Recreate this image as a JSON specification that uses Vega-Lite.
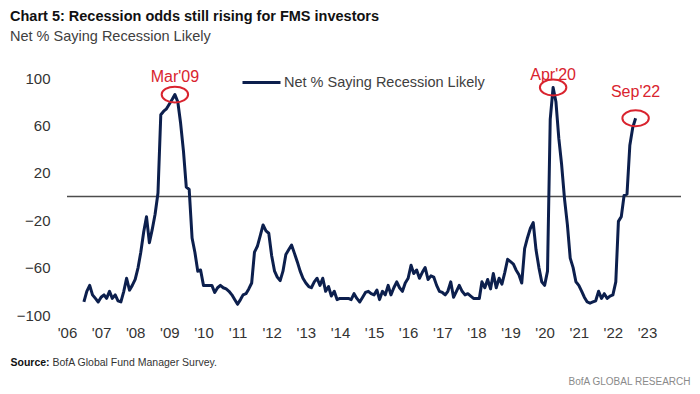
{
  "$schema": "https://vega.github.io/schema/vega-lite/v6.json",
  "width": 614,
  "height": 237,
  "autosize": {"type": "none"},
  "padding": {"left": 67, "top": 78, "right": 19, "bottom": 79},
  "background": "white",
  "config": {"view": {"stroke": null}, "font": "Liberation Sans"},
  "title": {
    "text": "Chart 5: Recession odds still rising for FMS investors",
    "subtitle": "Net % Saying Recession Likely",
    "anchor": "start",
    "frame": "group",
    "dx": -57,
    "offset": 18,
    "font": "Liberation Sans",
    "fontSize": 14.5,
    "fontWeight": "bold",
    "color": "#111111",
    "subtitleFont": "Liberation Sans",
    "subtitleFontSize": 14.5,
    "subtitleColor": "#404040",
    "subtitlePadding": 5
  },
  "datasets": {
    "fms": [
      {"date": "2006-07-01", "value": -89}, {"date": "2006-08-01", "value": -80}, {"date": "2006-09-01", "value": -75}, {"date": "2006-10-01", "value": -83}, {"date": "2006-11-01", "value": -86}, {"date": "2006-12-01", "value": -89},
      {"date": "2007-01-01", "value": -85}, {"date": "2007-02-01", "value": -83}, {"date": "2007-03-01", "value": -86}, {"date": "2007-04-01", "value": -80}, {"date": "2007-05-01", "value": -86}, {"date": "2007-06-01", "value": -83}, {"date": "2007-07-01", "value": -88}, {"date": "2007-08-01", "value": -89}, {"date": "2007-09-01", "value": -80}, {"date": "2007-10-01", "value": -69}, {"date": "2007-11-01", "value": -79}, {"date": "2007-12-01", "value": -75},
      {"date": "2008-01-01", "value": -70}, {"date": "2008-02-01", "value": -60}, {"date": "2008-03-01", "value": -47}, {"date": "2008-04-01", "value": -30}, {"date": "2008-05-01", "value": -17}, {"date": "2008-06-01", "value": -39}, {"date": "2008-07-01", "value": -28}, {"date": "2008-08-01", "value": -15}, {"date": "2008-09-01", "value": 3}, {"date": "2008-10-01", "value": 69}, {"date": "2008-11-01", "value": 72}, {"date": "2008-12-01", "value": 74},
      {"date": "2009-01-01", "value": 78}, {"date": "2009-02-01", "value": 82}, {"date": "2009-03-01", "value": 86}, {"date": "2009-04-01", "value": 80}, {"date": "2009-05-01", "value": 62}, {"date": "2009-06-01", "value": 38}, {"date": "2009-07-01", "value": 8}, {"date": "2009-08-01", "value": 6}, {"date": "2009-09-01", "value": -35}, {"date": "2009-10-01", "value": -47}, {"date": "2009-11-01", "value": -63}, {"date": "2009-12-01", "value": -62},
      {"date": "2010-01-01", "value": -75}, {"date": "2010-02-01", "value": -75}, {"date": "2010-03-01", "value": -75}, {"date": "2010-04-01", "value": -75}, {"date": "2010-05-01", "value": -81}, {"date": "2010-06-01", "value": -77}, {"date": "2010-07-01", "value": -75}, {"date": "2010-08-01", "value": -77}, {"date": "2010-09-01", "value": -78}, {"date": "2010-10-01", "value": -80}, {"date": "2010-11-01", "value": -83}, {"date": "2010-12-01", "value": -87},
      {"date": "2011-01-01", "value": -91}, {"date": "2011-02-01", "value": -87}, {"date": "2011-03-01", "value": -83}, {"date": "2011-04-01", "value": -82}, {"date": "2011-05-01", "value": -78}, {"date": "2011-06-01", "value": -73}, {"date": "2011-07-01", "value": -47}, {"date": "2011-08-01", "value": -42}, {"date": "2011-09-01", "value": -33}, {"date": "2011-10-01", "value": -24}, {"date": "2011-11-01", "value": -29}, {"date": "2011-12-01", "value": -31},
      {"date": "2012-01-01", "value": -50}, {"date": "2012-02-01", "value": -63}, {"date": "2012-03-01", "value": -68}, {"date": "2012-04-01", "value": -71}, {"date": "2012-05-01", "value": -63}, {"date": "2012-06-01", "value": -49}, {"date": "2012-07-01", "value": -45}, {"date": "2012-08-01", "value": -41}, {"date": "2012-09-01", "value": -48}, {"date": "2012-10-01", "value": -55}, {"date": "2012-11-01", "value": -63}, {"date": "2012-12-01", "value": -69},
      {"date": "2013-01-01", "value": -73}, {"date": "2013-02-01", "value": -76}, {"date": "2013-03-01", "value": -77}, {"date": "2013-04-01", "value": -72}, {"date": "2013-05-01", "value": -69}, {"date": "2013-06-01", "value": -75}, {"date": "2013-07-01", "value": -69}, {"date": "2013-08-01", "value": -80}, {"date": "2013-09-01", "value": -76}, {"date": "2013-10-01", "value": -84}, {"date": "2013-11-01", "value": -80}, {"date": "2013-12-01", "value": -87},
      {"date": "2014-01-01", "value": -86}, {"date": "2014-02-01", "value": -86}, {"date": "2014-03-01", "value": -86}, {"date": "2014-04-01", "value": -86}, {"date": "2014-05-01", "value": -87}, {"date": "2014-06-01", "value": -82}, {"date": "2014-07-01", "value": -86}, {"date": "2014-08-01", "value": -89}, {"date": "2014-09-01", "value": -85}, {"date": "2014-10-01", "value": -81}, {"date": "2014-11-01", "value": -80}, {"date": "2014-12-01", "value": -82},
      {"date": "2015-01-01", "value": -83}, {"date": "2015-02-01", "value": -79}, {"date": "2015-03-01", "value": -87}, {"date": "2015-04-01", "value": -80}, {"date": "2015-05-01", "value": -83}, {"date": "2015-06-01", "value": -75}, {"date": "2015-07-01", "value": -83}, {"date": "2015-08-01", "value": -77}, {"date": "2015-09-01", "value": -72}, {"date": "2015-10-01", "value": -77}, {"date": "2015-11-01", "value": -80}, {"date": "2015-12-01", "value": -73},
      {"date": "2016-01-01", "value": -69}, {"date": "2016-02-01", "value": -58}, {"date": "2016-03-01", "value": -65}, {"date": "2016-04-01", "value": -62}, {"date": "2016-05-01", "value": -69}, {"date": "2016-06-01", "value": -64}, {"date": "2016-07-01", "value": -60}, {"date": "2016-08-01", "value": -70}, {"date": "2016-09-01", "value": -67}, {"date": "2016-10-01", "value": -68}, {"date": "2016-11-01", "value": -75}, {"date": "2016-12-01", "value": -80},
      {"date": "2017-01-01", "value": -81}, {"date": "2017-02-01", "value": -83}, {"date": "2017-03-01", "value": -80}, {"date": "2017-04-01", "value": -72}, {"date": "2017-05-01", "value": -85}, {"date": "2017-06-01", "value": -80}, {"date": "2017-07-01", "value": -75}, {"date": "2017-08-01", "value": -80}, {"date": "2017-09-01", "value": -83}, {"date": "2017-10-01", "value": -82}, {"date": "2017-11-01", "value": -84}, {"date": "2017-12-01", "value": -86},
      {"date": "2018-01-01", "value": -86}, {"date": "2018-02-01", "value": -86}, {"date": "2018-03-01", "value": -72}, {"date": "2018-04-01", "value": -77}, {"date": "2018-05-01", "value": -70}, {"date": "2018-06-01", "value": -78}, {"date": "2018-07-01", "value": -65}, {"date": "2018-08-01", "value": -77}, {"date": "2018-09-01", "value": -69}, {"date": "2018-10-01", "value": -74}, {"date": "2018-11-01", "value": -64}, {"date": "2018-12-01", "value": -53},
      {"date": "2019-01-01", "value": -55}, {"date": "2019-02-01", "value": -57}, {"date": "2019-03-01", "value": -62}, {"date": "2019-04-01", "value": -66}, {"date": "2019-05-01", "value": -73}, {"date": "2019-06-01", "value": -44}, {"date": "2019-07-01", "value": -35}, {"date": "2019-08-01", "value": -27}, {"date": "2019-09-01", "value": -22}, {"date": "2019-10-01", "value": -45}, {"date": "2019-11-01", "value": -60}, {"date": "2019-12-01", "value": -72},
      {"date": "2020-01-01", "value": -75}, {"date": "2020-02-01", "value": -63}, {"date": "2020-03-01", "value": 65}, {"date": "2020-04-01", "value": 92}, {"date": "2020-05-01", "value": 80}, {"date": "2020-06-01", "value": 49}, {"date": "2020-07-01", "value": 27}, {"date": "2020-08-01", "value": -2}, {"date": "2020-09-01", "value": -24}, {"date": "2020-10-01", "value": -52}, {"date": "2020-11-01", "value": -60}, {"date": "2020-12-01", "value": -72},
      {"date": "2021-01-01", "value": -75}, {"date": "2021-02-01", "value": -80}, {"date": "2021-03-01", "value": -85}, {"date": "2021-04-01", "value": -89}, {"date": "2021-05-01", "value": -90}, {"date": "2021-06-01", "value": -89}, {"date": "2021-07-01", "value": -88}, {"date": "2021-08-01", "value": -80}, {"date": "2021-09-01", "value": -86}, {"date": "2021-10-01", "value": -82}, {"date": "2021-11-01", "value": -86}, {"date": "2021-12-01", "value": -84},
      {"date": "2022-01-01", "value": -83}, {"date": "2022-02-01", "value": -72}, {"date": "2022-03-01", "value": -21}, {"date": "2022-04-01", "value": -17}, {"date": "2022-05-01", "value": 1}, {"date": "2022-06-01", "value": 2}, {"date": "2022-07-01", "value": 43}, {"date": "2022-08-01", "value": 58}, {"date": "2022-09-01", "value": 66}
    ],
    "notes": [
      {"date": "2009-03-01", "value": 86, "label": "Mar'09"},
      {"date": "2020-04-01", "value": 92, "label": "Apr'20"},
      {"date": "2022-09-01", "value": 66, "label": "Sep'22"}
    ]
  },
  "layer": [
    {
      "data": {"values": [{}]},
      "mark": {"type": "rule", "color": "#4d4d4d", "strokeWidth": 1.5},
      "encoding": {
        "y": {"datum": 0, "type": "quantitative", "scale": {"domain": [-100, 100], "nice": false}, "axis": null}
      }
    },
    {
      "data": {"name": "fms"},
      "mark": {"type": "line", "strokeWidth": 3, "strokeJoin": "round"},
      "encoding": {
        "x": {
          "field": "date",
          "type": "temporal",
          "scale": {"type": "utc", "domain": [{"year": 2006, "month": 1, "date": 1, "utc": true}, {"year": 2023, "month": 12, "date": 31, "utc": true}]},
          "axis": {
            "format": "'%y",
            "tickCount": {"interval": "year", "step": 1},
            "grid": false,
            "domain": false,
            "ticks": false,
            "tickSize": 0,
            "labelFlush": false,
            "labelOverlap": false,
            "labelPadding": 10,
            "labelFontSize": 15,
            "labelColor": "#333333",
            "labelFont": "Liberation Sans",
            "title": "BofA Global Fund Manager Survey.",
            "titleFont": "Liberation Sans",
            "titleFontSize": 10.5,
            "titleFontWeight": "normal",
            "titleColor": "#333333",
            "titleAnchor": "start",
            "titleAlign": "left",
            "titleBaseline": "middle",
            "titleX": -15,
            "titleY": 47
          }
        },
        "y": {
          "field": "value",
          "type": "quantitative",
          "scale": {"domain": [-100, 100], "nice": false},
          "axis": {
            "values": [-100, -60, -20, 20, 60, 100],
            "grid": false,
            "domain": false,
            "ticks": false,
            "tickSize": 0,
            "labelPadding": 17,
            "labelFontSize": 15,
            "labelColor": "#333333",
            "labelFont": "Liberation Sans",
            "title": "Source:",
            "titleAngle": 0,
            "titleFont": "Liberation Sans",
            "titleFontSize": 10.5,
            "titleFontWeight": "bold",
            "titleColor": "#111111",
            "titleAlign": "left",
            "titleBaseline": "middle",
            "titleX": -57,
            "titleY": 284
          }
        },
        "color": {
          "datum": "Net % Saying Recession Likely",
          "type": "nominal",
          "scale": {"range": ["#0c1f4d"]},
          "legend": {
            "orient": "none",
            "legendX": 174,
            "legendY": -16,
            "title": null,
            "symbolType": "stroke",
            "symbolSize": 1444,
            "symbolStrokeWidth": 3,
            "labelFont": "Liberation Sans",
            "labelFontSize": 14.5,
            "labelColor": "#404040",
            "labelOffset": 2,
            "labelLimit": 0,
            "padding": 0
          }
        }
      }
    },
    {
      "data": {"name": "notes"},
      "mark": {"type": "point", "shape": "M-1,0A1,0.6,0,1,1,1,0A1,0.6,0,1,1,-1,0Z", "filled": false, "color": "#d9232e", "strokeWidth": 2, "opacity": 1, "size": 700},
      "encoding": {
        "x": {"field": "date", "type": "temporal"},
        "y": {
          "field": "value",
          "type": "quantitative",
          "axis": {
            "orient": "right",
            "labels": false,
            "ticks": false,
            "domain": false,
            "grid": false,
            "title": "BofA GLOBAL RESEARCH",
            "titleAngle": 0,
            "titleFont": "Liberation Sans",
            "titleFontSize": 10,
            "titleFontWeight": "normal",
            "titleColor": "#8a8a8a",
            "titleAlign": "right",
            "titleBaseline": "middle",
            "titleX": 9,
            "titleY": 303
          }
        }
      }
    },
    {
      "data": {"name": "notes"},
      "transform": [{"filter": {"field": "label", "equal": "Mar'09"}}],
      "mark": {"type": "text", "font": "Liberation Sans", "fontSize": 16, "color": "#d9232e", "baseline": "middle", "align": "center", "dy": -18},
      "encoding": {
        "x": {"field": "date", "type": "temporal"},
        "y": {"field": "value", "type": "quantitative", "axis": null},
        "text": {"field": "label"}
      }
    },
    {
      "data": {"name": "notes"},
      "transform": [{"filter": {"field": "label", "equal": "Apr'20"}}],
      "mark": {"type": "text", "font": "Liberation Sans", "fontSize": 16, "color": "#d9232e", "baseline": "middle", "align": "center", "dy": -12},
      "encoding": {
        "x": {"field": "date", "type": "temporal"},
        "y": {"field": "value", "type": "quantitative", "axis": null},
        "text": {"field": "label"}
      }
    },
    {
      "data": {"name": "notes"},
      "transform": [{"filter": {"field": "label", "equal": "Sep'22"}}],
      "mark": {"type": "text", "font": "Liberation Sans", "fontSize": 16, "color": "#d9232e", "baseline": "middle", "align": "center", "dy": -26},
      "encoding": {
        "x": {"field": "date", "type": "temporal"},
        "y": {"field": "value", "type": "quantitative", "axis": null},
        "text": {"field": "label"}
      }
    }
  ],
  "resolve": {"axis": {"y": "independent"}}
}
